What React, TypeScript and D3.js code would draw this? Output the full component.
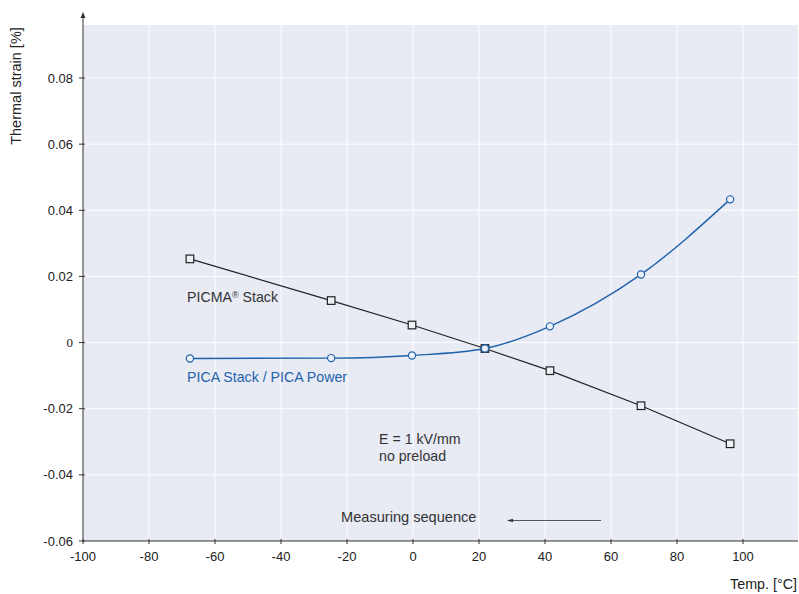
import React from "react";
import * as d3 from "d3";

const temps = [-67.6, -24.8, -0.3, 21.8, 41.5, 69.1, 96.1];
const picmaStrain = [0.0253, 0.0127, 0.0053, -0.0018, -0.0085, -0.0191, -0.0306];
const picaStrain = [-0.0048, -0.0047, -0.0039, -0.0018, 0.0049, 0.0206, 0.0433];
const xTicks = [-100, -80, -60, -40, -20, 0, 20, 40, 60, 80, 100];
const yTicks = [-0.06, -0.04, -0.02, 0, 0.02, 0.04, 0.06, 0.08];
const xGrid = [-80, -60, -40, -20, 0, 20, 40, 60, 80, 100];
const yGrid = [-0.04, -0.02, 0, 0.02, 0.04, 0.06, 0.08];

const W = 799, H = 594;
const left = 83, right = 798, top = 25, bottom = 541;
const BLUE = "#1f63ab";
const FONT = "Liberation Sans, Arial, sans-serif";

export default function App() {
  const x = d3.scaleLinear().domain([-100, 100]).range([83, 743]);
  const y = d3.scaleLinear().domain([-0.06, 0.08]).range([541, 78]);
  const picma = temps.map((t, i) => [t, picmaStrain[i]] as [number, number]);
  const pica = temps.map((t, i) => [t, picaStrain[i]] as [number, number]);
  const linLine = d3.line<[number, number]>().x(d => x(d[0])).y(d => y(d[1]));
  const curveLine = d3.line<[number, number]>().x(d => x(d[0])).y(d => y(d[1])).curve(d3.curveMonotoneX);
  const fmt = (v: number) => (v === 0 ? "0" : v.toFixed(2));

  return (
    <svg width={W} height={H} style={{ position: "absolute", left: 0, top: 0 }} fontFamily={FONT}>
      <defs>
        <marker id="ah" viewBox="0 0 10 10" refX="0" refY="5" markerWidth="6" markerHeight="6" orient="auto-start-reverse">
          <path d="M0,2 L10,5 L0,8 z" fill="#333" />
        </marker>
      </defs>
      <rect x={0} y={0} width={W} height={H} fill="#fff" />
      <rect x={left} y={top} width={right - left} height={bottom - top} fill="#e8eaf4" />
      {xGrid.map(v => (
        <line key={"gx" + v} x1={x(v)} x2={x(v)} y1={top} y2={bottom} stroke="#fff" strokeWidth={1} />
      ))}
      {yGrid.map(v => (
        <line key={"gy" + v} x1={left} x2={right} y1={y(v)} y2={y(v)} stroke="#fff" strokeWidth={1} />
      ))}
      {/* axes */}
      <line x1={left} x2={left} y1={bottom} y2={16} stroke="#333" strokeWidth={1} />
      <path d={`M${left - 2.5},${18} L${left},${12} L${left + 2.5},${18} z`} fill="#333" />
      <line x1={left} x2={right} y1={bottom} y2={bottom} stroke="#333" strokeWidth={1} />
      {xTicks.map(v => (
        <g key={"xt" + v}>
          <line x1={x(v)} x2={x(v)} y1={bottom - 2} y2={bottom + 3} stroke="#333" />
          <text x={x(v)} y={bottom + 20} textAnchor="middle" fontSize={13} fill="#222">{v}</text>
        </g>
      ))}
      {yTicks.map(v => (
        <g key={"yt" + v}>
          <line x1={left - 4} x2={left + 2} y1={y(v)} y2={y(v)} stroke="#333" />
          <text x={left - 10} y={y(v) + 4.5} textAnchor="end" fontSize={13} fill="#222"
            fontFamily={v === 0 ? "Liberation Serif, serif" : FONT}>{fmt(v)}</text>
        </g>
      ))}
      <text transform={`translate(21,86) rotate(-90)`} textAnchor="middle" fontSize={14.5} fill="#222">Thermal strain [%]</text>
      <text x={797} y={589} textAnchor="end" fontSize={14.3} fill="#222">Temp. [°C]</text>

      {/* series */}
      <path d={linLine(picma) || ""} fill="none" stroke="#222" strokeWidth={1.2} />
      <path d={curveLine(pica) || ""} fill="none" stroke={BLUE} strokeWidth={1.4} />
      {picma.map((d, i) => (
        <rect key={"s" + i} x={x(d[0]) - 3.8} y={y(d[1]) - 3.8} width={7.6} height={7.6} fill="#eef0f7" stroke="#222" strokeWidth={1.2} />
      ))}
      {pica.map((d, i) => (
        <circle key={"c" + i} cx={x(d[0])} cy={y(d[1])} r={3.6} fill="#eef0f7" stroke={BLUE} strokeWidth={1.2} />
      ))}

      {/* annotations */}
      <text x={187} y={302} fontSize={14.2} fill="#333">PICMA<tspan fontSize={9} dy={-4}>®</tspan><tspan dy={4}> Stack</tspan></text>
      <text x={187} y={382} fontSize={14.2} fill={BLUE}>PICA Stack / PICA Power</text>
      <text x={379} y={444} fontSize={14.2} fill="#333">E = 1 kV/mm</text>
      <text x={379} y={461} fontSize={14.2} fill="#333">no preload</text>
      <text x={341} y={522} fontSize={14.6} fill="#333">Measuring sequence</text>
      <line x1={601} x2={513} y1={520.5} y2={520.5} stroke="#555" strokeWidth={1} markerEnd="url(#ah)" />
    </svg>
  );
}
